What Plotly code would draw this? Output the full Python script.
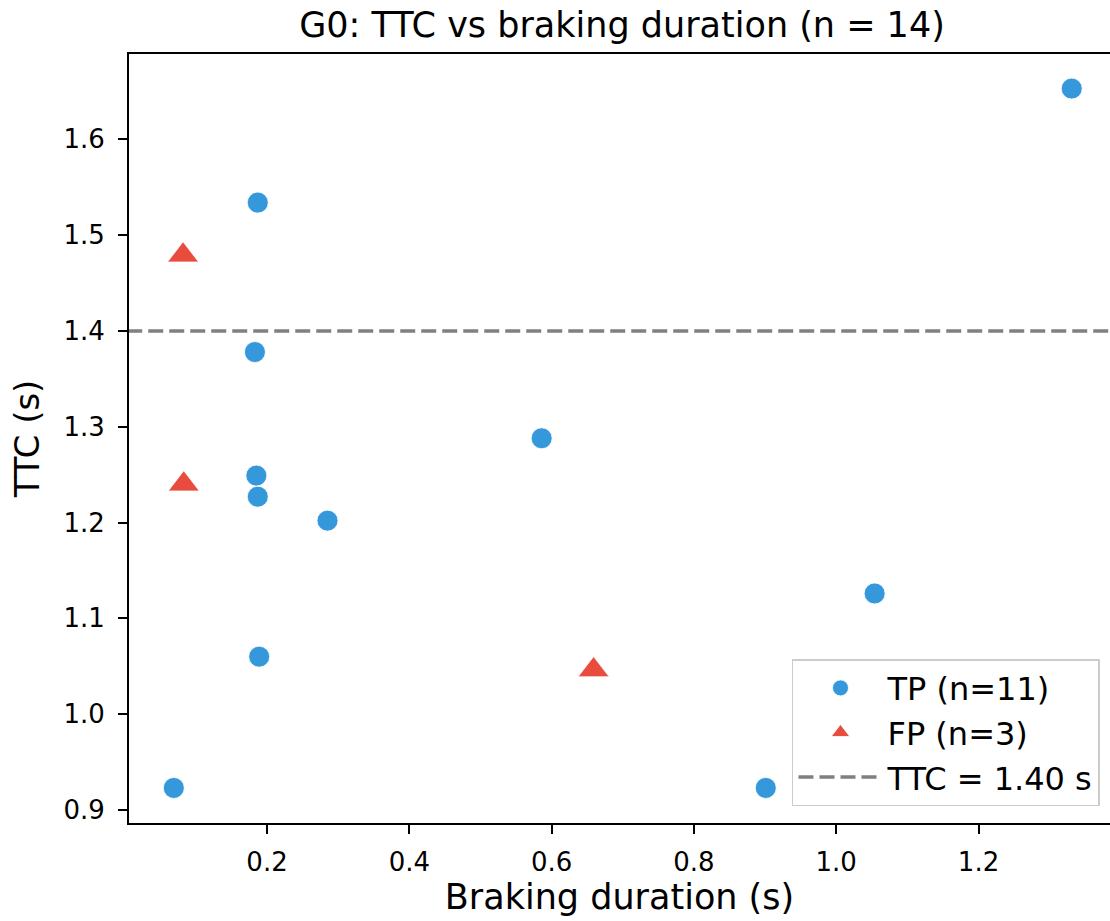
import plotly.graph_objects as go

# Data
tp_duration = [1.331, 0.187, 0.183, 0.586, 0.185, 0.187, 0.285, 1.054, 0.189, 0.069, 0.901]
tp_ttc = [1.653, 1.534, 1.378, 1.288, 1.249, 1.227, 1.202, 1.126, 1.060, 0.923, 0.923]
fp_duration = [0.082, 0.083, 0.659]
fp_ttc = [1.479, 1.240, 1.046]
threshold = 1.40

title_text = "G0: TTC vs braking duration (n = 14)"
x_label = "Braking duration (s)"
y_label = "TTC (s)"
x_ticks = [0.2, 0.4, 0.6, 0.8, 1.0, 1.2]
y_ticks = [0.9, 1.0, 1.1, 1.2, 1.3, 1.4, 1.5, 1.6]

BLUE = "#3498db"
RED = "#e74c3c"
FONT = "DejaVu Sans"

fig = go.Figure()
fig.add_trace(go.Scatter(
    x=tp_duration, y=tp_ttc, mode="markers",
    name=f"TP (n={len(tp_duration)})",
    marker=dict(symbol="circle", size=21, color=BLUE, line=dict(color="white", width=0.8)),
))
fig.add_trace(go.Scatter(
    x=fp_duration, y=fp_ttc, mode="markers",
    name=f"FP (n={len(fp_duration)})",
    marker=dict(symbol="triangle-up", size=27, color=RED, line=dict(color="white", width=0.8)),
))
fig.add_trace(go.Scatter(
    x=[-1, 3], y=[threshold, threshold], mode="lines",
    name=f"TTC = {threshold:.2f} s",
    line=dict(color="gray", width=3.5, dash="15px,6px"),
))

fig.update_layout(
    width=1110, height=921,
    margin=dict(l=129, r=0, t=54, b=98),
    paper_bgcolor="white", plot_bgcolor="white",
    font=dict(family=FONT, color="black", size=26),
    title=dict(text=title_text, font=dict(size=35, family=FONT, color="black"),
               x=(622 - 129) / 981, xref="paper", xanchor="center",
               y=1 - 25 / 921, yref="container", yanchor="middle"),
    showlegend=True,
    legend=dict(
        x=0.9898, y=0.022, xanchor="right", yanchor="bottom",
        bgcolor="rgba(255,255,255,0.85)", bordercolor="#cccccc", borderwidth=1.5,
        font=dict(size=32, family=FONT, color="black"),
        itemwidth=84, tracegroupgap=0,
    ),
)

fig.update_xaxes(
    range=[0.006, 1.3848],
    tickvals=x_ticks, ticktext=[f"{v:.1f}" for v in x_ticks],
    ticks="outside", ticklen=9, tickwidth=2, tickcolor="black",
    showline=True, linecolor="black", linewidth=2, mirror=True,
    showgrid=False, zeroline=False,
    tickfont=dict(size=26, family=FONT, color="black"),
    ticklabelstandoff=6,
    title=dict(text=x_label, font=dict(size=35, family=FONT, color="black"), standoff=3),
)
fig.update_yaxes(
    range=[0.8864, 1.6891],
    tickvals=y_ticks, ticktext=[f"{v:.1f}" for v in y_ticks],
    ticks="outside", ticklen=9, tickwidth=2, tickcolor="black",
    showline=True, linecolor="black", linewidth=2, mirror=False,
    showgrid=False, zeroline=False,
    tickfont=dict(size=26, family=FONT, color="black"),
    ticklabelstandoff=8,
    title=dict(text=y_label, font=dict(size=34, family=FONT, color="black"), standoff=14),
)

fig.write_html("out.html")
